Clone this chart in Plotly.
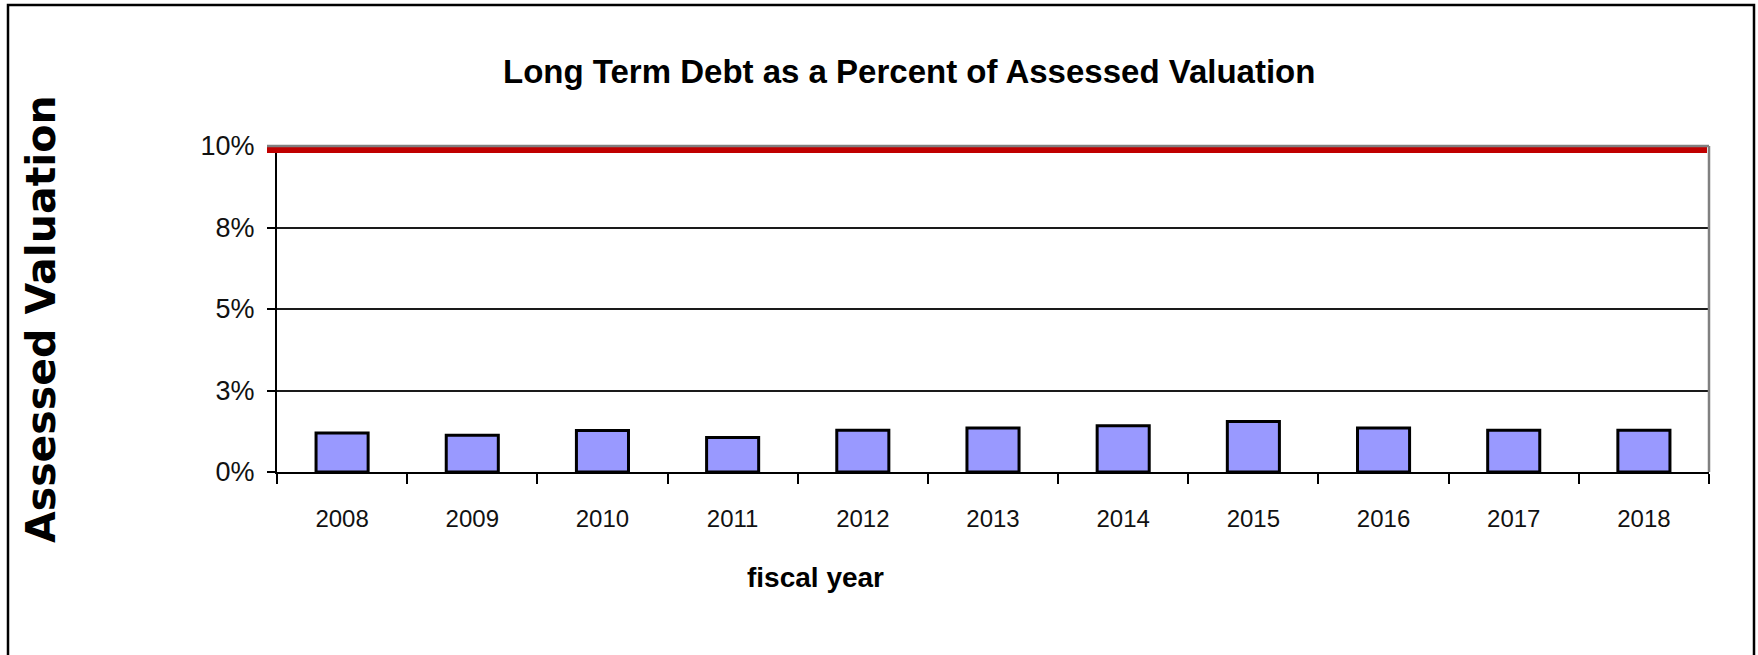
import plotly.graph_objects as go

# Long term debt as a share of assessed valuation, by fiscal year
years = ["2008", "2009", "2010", "2011", "2012", "2013",
         "2014", "2015", "2016", "2017", "2018"]
debt_pct = [1.20, 1.13, 1.27, 1.06, 1.28, 1.35, 1.42, 1.55, 1.35, 1.28, 1.28]
limit_pct = 10.0

y_tickvals = [0, 2.5, 5, 7.5, 10]
y_ticktext = ["0%", "3%", "5%", "8%", "10%"]

W, H = 1758, 655
ML, MR, MT, MB = 277, 49, 146, 183

NARROW = "Liberation Sans, Arial, sans-serif"
WIDE = "DejaVu Sans, Verdana, sans-serif"


def px_x(x):
    return (x - ML) / (W - ML - MR)


def px_y(y):
    return (H - MB - y) / (H - MT - MB)


fig = go.Figure()

fig.add_trace(go.Bar(
    x=years,
    y=debt_pct,
    marker=dict(color="#9999FF", line=dict(color="#000000", width=3)),
    showlegend=False,
))

shapes = [
    # statutory limit line
    dict(type="line", xref="paper", yref="y",
         x0=px_x(267), x1=px_x(1707), y0=limit_pct, y1=limit_pct,
         line=dict(color="#C00000", width=14), layer="above"),
    # plot area top and right edges
    dict(type="line", xref="paper", yref="paper",
         x0=px_x(267), x1=1, y0=1, y1=1,
         line=dict(color="#808080", width=2.5), layer="above"),
    dict(type="line", xref="paper", yref="paper",
         x0=1, x1=1, y0=0, y1=1,
         line=dict(color="#808080", width=2.5), layer="above"),
    # outer chart frame
    dict(type="rect", xref="paper", yref="paper",
         x0=px_x(8), x1=px_x(1754), y0=px_y(665), y1=px_y(5),
         line=dict(color="#000000", width=2.5), layer="above"),
]

annotations = [
    dict(text="<b>Long Term Debt as a Percent of Assessed Valuation</b>",
         xref="paper", yref="paper", x=px_x(909), y=px_y(71),
         xanchor="center", yanchor="middle", showarrow=False,
         font=dict(family=NARROW, size=33, color="#000000")),
    dict(text="<b>fiscal year</b>",
         xref="paper", yref="paper", x=px_x(815), y=px_y(577),
         xanchor="center", yanchor="middle", showarrow=False,
         font=dict(family=NARROW, size=28, color="#000000")),
    dict(text="<b>Assessed Valuation</b>",
         xref="paper", yref="paper", x=px_x(41), y=px_y(319),
         xanchor="center", yanchor="middle", showarrow=False, textangle=-90,
         font=dict(family=WIDE, size=41, color="#000000")),
]

fig.update_layout(
    width=W, height=H,
    margin=dict(l=ML, r=MR, t=MT, b=MB, pad=0),
    paper_bgcolor="#FFFFFF",
    plot_bgcolor="#FFFFFF",
    bargap=0.6,
    shapes=shapes,
    annotations=annotations,
    xaxis=dict(
        type="category",
        showline=True, linecolor="#000000", linewidth=2,
        ticks="outside", tickson="boundaries", ticklen=10,
        tickwidth=1.5, tickcolor="#000000",
        showgrid=False, zeroline=False,
        ticklabelstandoff=24,
        tickfont=dict(family=NARROW, size=24, color="#111111"),
    ),
    yaxis=dict(
        range=[0, 10],
        tickvals=y_tickvals, ticktext=y_ticktext,
        showline=True, linecolor="#000000", linewidth=2,
        ticks="outside", ticklen=8, tickwidth=1.5, tickcolor="#000000",
        showgrid=True, gridcolor="#1a1a1a", gridwidth=1.5,
        zeroline=False,
        ticklabelstandoff=7,
        tickfont=dict(family=NARROW, size=27, color="#111111"),
    ),
)

fig.write_html("out.html")
